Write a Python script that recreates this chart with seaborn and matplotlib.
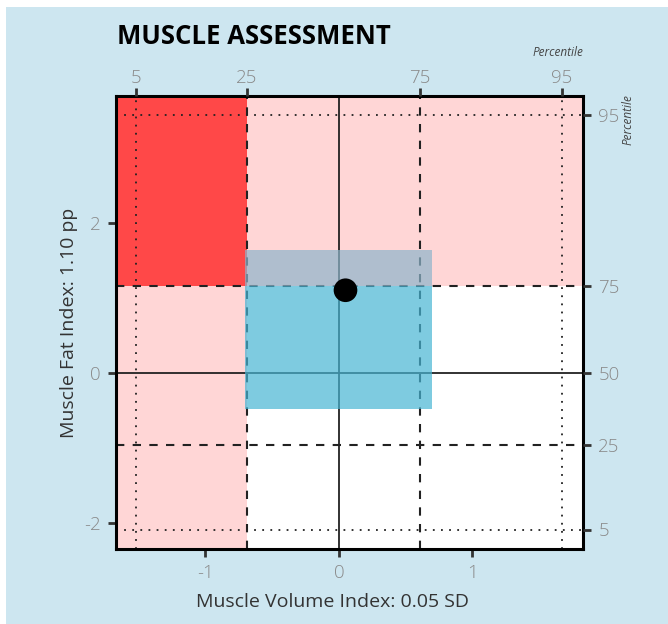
import matplotlib
matplotlib.use("Agg")
import matplotlib.pyplot as plt
from matplotlib.patches import Rectangle
import seaborn as sns
import pandas as pd

# ---- data ----
pct_labels = [5, 25, 50, 75, 95]
x_pct_pos = [-1.52, -0.69, 0.0, 0.61, 1.67]     # muscle volume index at percentiles
y_pct_pos = [-2.09, -0.97, 0.0, 1.15, 3.43]     # muscle fat index at percentiles
top_pct_labels = [5, 25, 75, 95]
top_pct_pos = [-1.52, -0.69, 0.61, 1.67]
box_x = [-0.70, 0.70]      # reference range, volume
box_y = [-0.49, 1.64]      # reference range, fat
point_x = [0.05]
point_y = [1.10]
x_ticks = [-1, 0, 1]
y_ticks = [-2, 0, 2]
xlim = (-1.67, 1.83)
ylim = (-2.35, 3.69)
title = "MUSCLE ASSESSMENT"
xlabel = "Muscle Volume Index: 0.05 SD"
ylabel = "Muscle Fat Index: 1.10 pp"

sns.set_theme(style="white")
plt.rcParams['font.family'] = ['Open Sans', 'DejaVu Sans']

fig = plt.figure(figsize=(6.68, 6.24), dpi=100)
fig.patch.set_facecolor("white")
fig.patches.append(Rectangle((6/668, 0), 1, 1 - 7/624, transform=fig.transFigure,
                             facecolor="#CDE6F0", edgecolor="none", zorder=-10))

ax = fig.add_axes([116/668, 1 - 549/624, 467/668, 453/624])
ax.set_facecolor("white")
ax.set_xlim(*xlim)
ax.set_ylim(*ylim)

p25x, p75x = x_pct_pos[1], x_pct_pos[3]
p75y = y_pct_pos[3]
pink = "#FFD6D6"
# left column (low volume)
ax.add_patch(Rectangle((xlim[0], ylim[0]), p25x - xlim[0], ylim[1] - ylim[0],
                       facecolor=pink, edgecolor="none", zorder=0.5))
# top row (high fat)
ax.add_patch(Rectangle((xlim[0], p75y), xlim[1] - xlim[0], ylim[1] - p75y,
                       facecolor=pink, edgecolor="none", zorder=0.5))
# corner (low volume and high fat)
ax.add_patch(Rectangle((xlim[0], p75y), p25x - xlim[0], ylim[1] - p75y,
                       facecolor="#FF4848", edgecolor="none", zorder=0.6))

# percentile lines
styles = {5: (0, (1, 3.5)), 25: (0, (4, 4)), 50: "-", 75: (0, (4, 4)), 95: (0, (1, 3.5))}
widths = {5: 1.3, 25: 1.5, 50: 1.3, 75: 1.5, 95: 1.3}
for lab, xv, yv in zip(pct_labels, x_pct_pos, y_pct_pos):
    ax.axvline(xv, color="#222222", ls=styles[lab], lw=widths[lab], zorder=1)
    ax.axhline(yv, color="#222222", ls=styles[lab], lw=widths[lab], zorder=1)

# reference box: part below p75 in blue, overlap with high-fat row in grey
lo = box_y[0]
mid = min(max(p75y, box_y[0]), box_y[1])
ax.add_patch(Rectangle((box_x[0], lo), box_x[1] - box_x[0], mid - lo,
                       facecolor="#47B5D4", alpha=0.7, edgecolor="none", zorder=2))
ax.add_patch(Rectangle((box_x[0], mid), box_x[1] - box_x[0], box_y[1] - mid,
                       facecolor="#8EB5CB", alpha=0.7, edgecolor="none", zorder=2))

df = pd.DataFrame({"x": point_x, "y": point_y})
sns.scatterplot(data=df, x="x", y="y", ax=ax, s=290, color="black",
                edgecolor="none", zorder=5, legend=False)

for sp in ax.spines.values():
    sp.set_visible(True)
    sp.set_color("black")
    sp.set_linewidth(2.2)
    sp.set_zorder(6)

tick_kw = dict(direction="out", length=6, width=2, color="#333333",
               labelcolor="#8A8A8A", labelsize=13.5)
ax.set_xticks(x_ticks)
ax.set_yticks(y_ticks)
ax.set_xticklabels([str(v) for v in x_ticks])
ax.set_yticklabels([str(v) for v in y_ticks])
ax.tick_params(axis="x", pad=5, bottom=True, **tick_kw)
ax.tick_params(axis="y", pad=5, left=True, **tick_kw)
ax.set_xlabel(xlabel, fontsize=14, color="#333333", labelpad=5)
ax.xaxis.set_label_coords((332 - 116) / 467, -0.098)
ax.set_ylabel(ylabel, fontsize=14, color="#333333", labelpad=4)
for t in ax.get_xticklabels() + ax.get_yticklabels():
    t.set_fontweight("light")

axt = ax.twiny()
axt.set_xlim(*xlim)
axt.set_xticks(top_pct_pos)
axt.set_xticklabels([str(v) for v in top_pct_labels])
axt.tick_params(axis="x", pad=0.5, top=True, **tick_kw)
axr = ax.twinx()
axr.set_ylim(*ylim)
axr.set_yticks(y_pct_pos)
axr.set_yticklabels([str(v) for v in pct_labels])
axr.tick_params(axis="y", pad=5, right=True, **tick_kw)
for a in (axt, axr):
    for sp in a.spines.values():
        sp.set_visible(False)
    for t in a.get_xticklabels() + a.get_yticklabels():
        t.set_fontweight("light")

fig.text(117/668, 1 - 37/624, title, fontsize=18.5, fontweight="bold",
         color="black", va="center", ha="left")
fig.text(558/668, 1 - 53/624, "Percentile", fontsize=8.5, style="italic",
         color="#444444", ha="center", va="center")
fig.text(628/668, 1 - 120/624, "Percentile", fontsize=8.5, style="italic",
         color="#444444", ha="center", va="center", rotation=90)

fig.savefig("out.png", dpi=100, facecolor=fig.get_facecolor())
